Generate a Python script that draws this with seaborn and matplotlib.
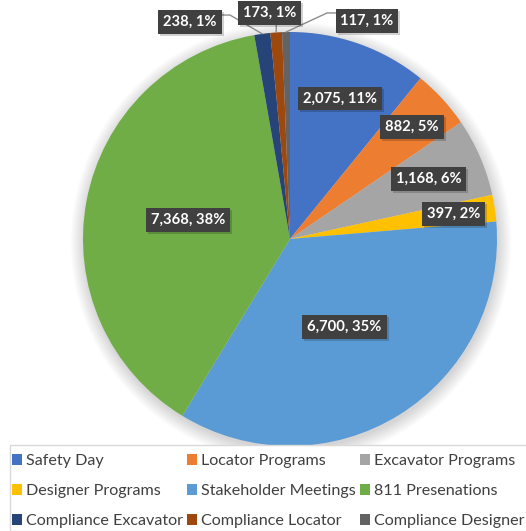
import matplotlib
matplotlib.use("Agg")
import matplotlib.pyplot as plt
import seaborn as sns
import numpy as np
from matplotlib.patches import Circle, Rectangle

categories = ["Safety Day", "Locator Programs", "Excavator Programs",
              "Designer Programs", "Stakeholder Meetings", "811 Presenations",
              "Compliance Excavator", "Compliance Locator", "Compliance Designer"]
values = [2075, 882, 1168, 397, 6700, 7368, 238, 173, 117]
pct_labels = ["11%", "5%", "6%", "2%", "35%", "38%", "1%", "1%", "1%"]
colors = ["#4472C4", "#ED7D31", "#A5A5A5", "#FFC000", "#5B9BD5",
          "#70AD47", "#264478", "#9E480E", "#636363"]

sns.set_style("white")
plt.rcParams['font.family'] = ['Lato', 'DejaVu Sans']

W, H = 526, 531
fig = plt.figure(figsize=(W / 100, H / 100), dpi=100)
cx, cy, R = 290, 239, 207
ax = fig.add_axes([(cx - R) / W, (H - cy - R) / H, 2 * R / W, 2 * R / H])

# soft shadow
for i in range(14):
    ax.add_patch(Circle((0.005, -0.015), 1 + 0.005 * i, color='black',
                        alpha=0.012, lw=0, zorder=0, clip_on=False))

palette = sns.color_palette(colors)
wedges, _ = ax.pie(values, colors=palette, startangle=90, counterclock=False,
                   radius=1, wedgeprops=dict(linewidth=0))
for w in wedges:
    w.set_zorder(2)
ax.set_xlim(-1, 1)
ax.set_ylim(-1, 1)
ax.axis('off')

# inside label radial positions (fraction of radius)
label_radius = [0.72, 0.80, 0.73, 0.80, 0.50, 0.50]
# outside labels (data coords) and leader elbow/end points
outside_pos = {6: (-0.483, 1.048), 7: (-0.097, 1.092), 8: (0.372, 1.053)}
leader = {6: [(-0.290, 1.082), (-0.329, 1.082)],
          7: [(-0.066, 1.048)],
          8: [(0.179, 1.092), (0.227, 1.092)]}

box = dict(boxstyle='square,pad=0.33', fc='#404040', ec='none')
texts = []
for i, (w, v, p) in enumerate(zip(wedges, values, pct_labels)):
    th = np.deg2rad((w.theta1 + w.theta2) / 2)
    txt = f"{v:,}, {p}"
    if i < len(label_radius):
        r = label_radius[i]
        x, y = r * np.cos(th), r * np.sin(th)
    else:
        x, y = outside_pos[i]
        ex, ey = np.cos(th), np.sin(th)
        pts = [(ex, ey)] + leader[i]
        ax.plot([q[0] for q in pts], [q[1] for q in pts], color='#8c8c8c',
                lw=1, zorder=3, clip_on=False)
    texts.append(ax.text(x, y, txt, ha='center', va='center', color='white',
                         fontsize=10.6, fontweight='bold', bbox=box, zorder=5,
                         clip_on=False))

# legend frame
fig.patches.append(Rectangle((10 / W, 0), 1, (H - 445) / H, transform=fig.transFigure,
                             fc='white', ec='#d9d9d9', lw=1, zorder=0))
order = [0, 3, 6, 1, 4, 7, 2, 5, 8]  # row-major filling for 3 columns
leg = fig.legend([wedges[k] for k in order], [categories[k] for k in order],
                 ncol=3, loc='upper left',
                 bbox_to_anchor=(12 / W, (H - 454) / H), frameon=False,
                 fontsize=11.6, handlelength=0.62, handleheight=0.62,
                 handletextpad=0.22, columnspacing=0.3, labelspacing=1.0,
                 borderaxespad=0, borderpad=0)
for t in leg.get_texts():
    t.set_color('#404040')

# drop shadows behind label boxes
fig.canvas.draw()
renderer = fig.canvas.get_renderer()
for t in texts:
    bb = t.get_bbox_patch().get_window_extent(renderer)
    ax.add_patch(Rectangle((bb.x0 + 2, bb.y0 - 2), bb.width, bb.height,
                           transform=None, fc='black', alpha=0.18, lw=0,
                           zorder=4, clip_on=False))

fig.savefig("out.png", dpi=100, facecolor='white')
